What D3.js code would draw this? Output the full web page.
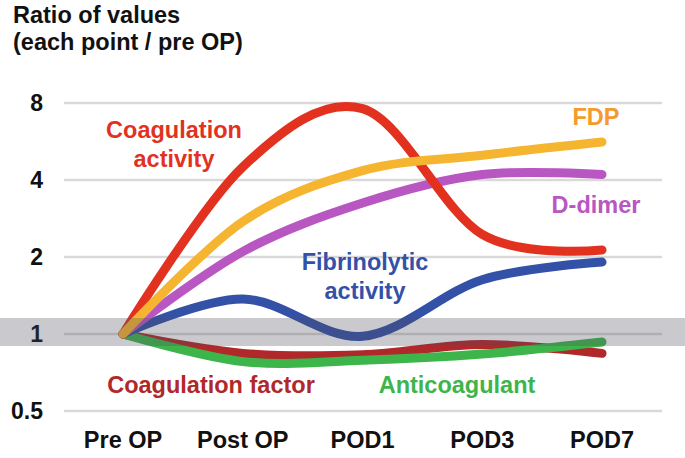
<!DOCTYPE html>
<html>
<head>
<meta charset="utf-8">
<script src="https://cdn.jsdelivr.net/npm/d3@7"></script>
<style>
  body { margin: 0; background: #fff; }
  text { font-family: "Liberation Sans", Arial, sans-serif; font-weight: bold; }
</style>
</head>
<body>
<svg width="685" height="458"></svg>
<script>
const categories = ['Pre OP', 'Post OP', 'POD1', 'POD3', 'POD7'];
const yTicks = [0.5, 1, 2, 4, 8];

// ratio to pre OP
const coagFactor = [1, 0.84, 0.83, 0.91, 0.84];
const anticoagulant = [1, 0.78, 0.79, 0.835, 0.93];
const fibrinolytic = [1, 1.37, 0.98, 1.63, 1.91];
const dDimer = [1, 2.1, 3.25, 4.2, 4.2];
const coagActivity = [1, 4.5, 7.6, 2.45, 2.13];
const fdp = [1, 2.75, 4.35, 5.0, 5.63];

var svg = d3.select('svg'),
  width = +svg.attr('width'),
  height = +svg.attr('height');

var x = d3.scalePoint()
  .domain(categories)
  .range([123, 602]);

var y = d3.scaleLog()
  .base(2)
  .domain([0.5, 8])
  .range([411, 103]);

// gridlines
svg.append('g')
  .selectAll('line')
  .data(yTicks)
  .enter().append('line')
  .attr('x1', 64)
  .attr('x2', 662)
  .attr('y1', d => y(d))
  .attr('y2', d => y(d))
  .attr('stroke', '#d9d9d9')
  .attr('stroke-width', 2.5);

// y axis labels
svg.append('g')
  .selectAll('text')
  .data(yTicks)
  .enter().append('text')
  .attr('x', 43)
  .attr('y', d => y(d))
  .attr('dy', '0.36em')
  .attr('text-anchor', 'end')
  .attr('font-size', 23)
  .attr('fill', '#111')
  .text(d => d);

// x axis labels
svg.append('g')
  .selectAll('text')
  .data(categories)
  .enter().append('text')
  .attr('x', d => x(d))
  .attr('y', 448)
  .attr('text-anchor', 'middle')
  .attr('font-size', 23.5)
  .attr('fill', '#111')
  .text(d => d);

// title
svg.append('text')
  .attr('x', 13)
  .attr('y', 23)
  .attr('font-size', 23.5)
  .attr('fill', '#111')
  .text('Ratio of values');
svg.append('text')
  .attr('x', 13)
  .attr('y', 50)
  .attr('font-size', 23.5)
  .attr('fill', '#111')
  .text('(each point / pre OP)');

// bottom to top drawing order
var series = [
  { name: 'Coagulation factor', values: coagFactor, color: '#b0282a' },
  { name: 'Anticoagulant', values: anticoagulant, color: '#3db54a' },
  { name: 'Fibrinolytic activity', values: fibrinolytic, color: '#3451a8' },
  { name: 'D-dimer', values: dDimer, color: '#b957c2' },
  { name: 'Coagulation activity', values: coagActivity, color: '#e2321f' },
  { name: 'FDP', values: fdp, color: '#f6b530' }
];

var line = d3.line()
  .x((d, i) => x(categories[i]))
  .y(d => y(d))
  .curve(d3.curveCardinal.tension(0));

svg.append('g')
  .selectAll('path')
  .data(series)
  .enter().append('path')
  .attr('d', d => line(d.values))
  .attr('fill', 'none')
  .attr('stroke', d => d.color)
  .attr('stroke-width', 9)
  .attr('stroke-linecap', 'round')
  .attr('stroke-linejoin', 'round');

// grey band round 1, laid over the lines
svg.append('rect')
  .attr('x', 0)
  .attr('y', 318)
  .attr('width', width)
  .attr('height', 28)
  .attr('fill', 'rgb(80,80,92)')
  .attr('fill-opacity', 0.3);

// series labels
var labels = [
  { lines: ['Coagulation', 'activity'], x: 174, y: 138, color: '#e2321f' },
  { lines: ['FDP'], x: 596, y: 125, color: '#f59a2c' },
  { lines: ['D-dimer'], x: 596, y: 213, color: '#b957c2' },
  { lines: ['Fibrinolytic', 'activity'], x: 365, y: 270, color: '#3451a8' },
  { lines: ['Coagulation factor'], x: 211, y: 393, color: '#b0282a' },
  { lines: ['Anticoagulant'], x: 457, y: 393, color: '#3db54a' }
];

labels.forEach(function(l) {
  var t = svg.append('text')
    .attr('text-anchor', 'middle')
    .attr('font-size', 23.5)
    .attr('fill', l.color);
  l.lines.forEach(function(s, i) {
    t.append('tspan')
      .attr('x', l.x)
      .attr('y', l.y + i * 29)
      .text(s);
  });
});
</script>
</body>
</html>
